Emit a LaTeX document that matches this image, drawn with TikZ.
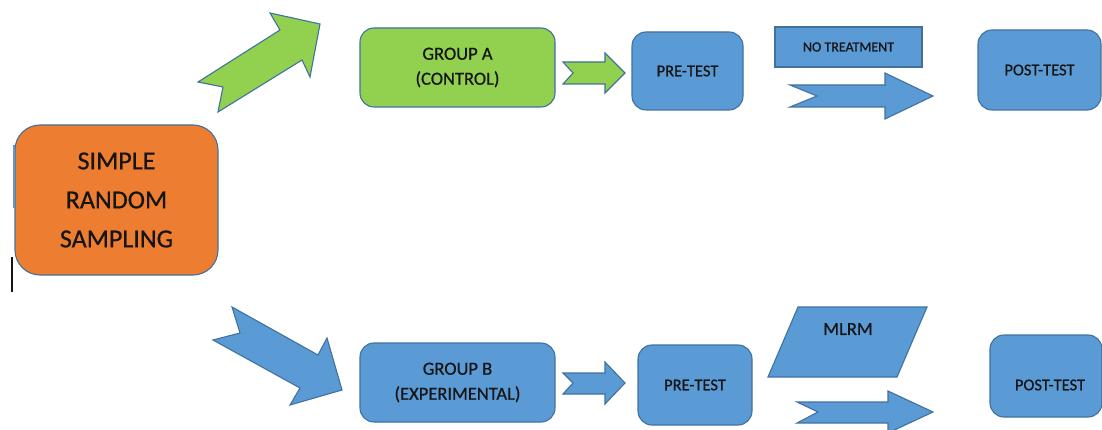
\documentclass[tikz,border=0pt]{standalone}
\usepackage{fontspec}
\setmainfont{Carlito}[FakeBold=0.7]
\definecolor{orangeF}{HTML}{ED7D31}
\definecolor{greenF}{HTML}{92D050}
\definecolor{blueF}{HTML}{5B9BD5}
\definecolor{bordC}{HTML}{41719C}
\definecolor{txtC}{HTML}{151515}
\tikzset{
  box/.style={draw=bordC, line width=1.1pt, rounded corners=14pt, fill=blueF,
              inner sep=0pt, align=center, text=txtC},
  plainbox/.style={draw=bordC, line width=1.1pt, fill=blueF, inner sep=0pt, align=center, text=txtC},
  txt/.style={inner sep=0pt, align=center, text=txtC},
  blockarrow/.style={draw=bordC, line width=1.1pt, line join=miter},
  big/.style={font=\fontsize{26}{39}\selectfont},
  mid/.style={font=\fontsize{18.5}{25}\selectfont},
  small/.style={font=\fontsize{16.5}{20}\selectfont},
  tiny/.style={font=\fontsize{14}{16}\selectfont},
}
\begin{document}
\begin{tikzpicture}[x=1pt,y=-1pt]
\useasboundingbox (0,0) rectangle (1102,430);
\clip (0,0) rectangle (1102,430);
\fill[white] (0,0) rectangle (1102,430);

% main box
\node[box, big, fill=orangeF, rounded corners=25pt, minimum width=203pt, minimum height=150pt] (srs) at (116.5,200) {SIMPLE\\RANDOM\\SAMPLING};
\coordinate (stripA) at (14,145);
\coordinate (stripB) at (14,208);
\draw[blueF, line width=1.5pt] (stripA) -- (stripB);
\coordinate (curA) at (12,257);
\coordinate (curB) at (12,292);
\draw[txtC, line width=1.2pt] (curA) -- (curB);

% big arrows
\draw[blockarrow, fill=greenF] (198,82) -- (280,30) -- (270,13) -- (320,24) -- (310,77) -- (302,60) -- (218,112) -- (223,87) -- cycle;
\draw[blockarrow, fill=blueF] (232,307) -- (318,355) -- (327,338) -- (342,390) -- (290,405) -- (300,388) -- (213,340) -- (240,333) -- cycle;

% group boxes
\node[box, mid, fill=greenF, minimum width=195pt, minimum height=79pt] (ga) at (457.5,67.5) {GROUP A\\(CONTROL)};
\node[box, mid, minimum width=195pt, minimum height=79pt] (gb) at (457.5,382.5) {GROUP B\\(EXPERIMENTAL)};

% small arrows
\draw[blockarrow, fill=greenF] (563,62) -- (605,62) -- (605,53) -- (625,73) -- (605,93) -- (605,84) -- (563,84) -- (573,73) -- cycle;
\draw[blockarrow, fill=blueF] (563,373) -- (605,373) -- (605,362) -- (625,383) -- (605,404) -- (605,394) -- (563,394) -- (573,383) -- cycle;

% pre-test
\node[box, small, minimum width=111pt, minimum height=78pt] (preA) at (687.5,71) {PRE-TEST};
\node[box, small, minimum width=114pt, minimum height=80pt] (preB) at (695,385) {PRE-TEST};

% treatment
\node[plainbox, tiny, minimum width=147pt, minimum height=40pt] (notr) at (848.5,47) {NO TREATMENT};
\draw[blockarrow, fill=blueF] (798,307) -- (927,307) -- (897,377) -- (768,377) -- cycle;
\node[txt, mid] (mlrm) at (848,329) {MLRM};

% long arrows
\draw[blockarrow, fill=blueF] (790,85) -- (885,85) -- (885,73) -- (933,96) -- (885,119) -- (885,107) -- (790,107) -- (817,96) -- cycle;
\draw[blockarrow, fill=blueF] (797,402) -- (888,402) -- (888,391) -- (933,412) -- (888,433) -- (888,423) -- (797,423) -- (818,412) -- cycle;

% post-test
\node[box, small, minimum width=123pt, minimum height=80pt] (postA) at (1039.5,70) {POST-TEST};
\node[box, minimum width=112pt, minimum height=82pt] (postB) at (1046,376) {};
\node[txt, small] (postBt) at (1050,385) {POST-TEST};
\end{tikzpicture}
\end{document}
